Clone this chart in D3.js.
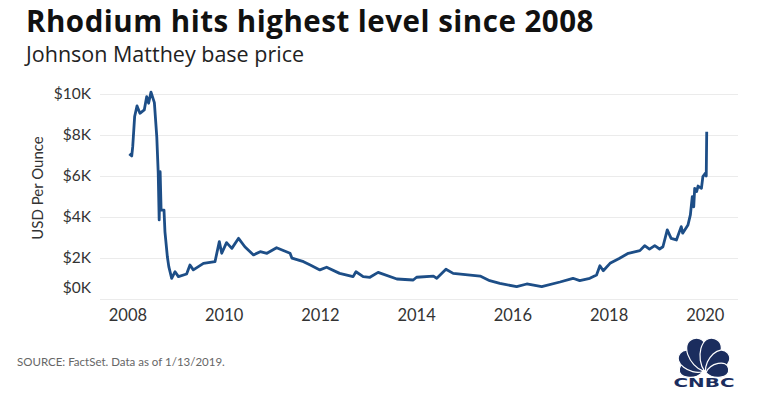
<!DOCTYPE html>
<html>
<head>
<meta charset="utf-8">
<script src="https://cdn.jsdelivr.net/npm/d3@7"></script>
<style>
  body { margin: 0; background: #fff; }
  svg text { font-family: Lato, "Open Sans", sans-serif; }
</style>
</head>
<body>
<div id="chart"></div>
<script>
// Rhodium price (decimal year, USD per ounce)
var years = [2008.04, 2008.09, 2008.11, 2008.15, 2008.20, 2008.26, 2008.35, 2008.40, 2008.44, 2008.49,
  2008.56, 2008.61, 2008.64, 2008.66, 2008.68, 2008.70, 2008.76, 2008.78, 2008.83, 2008.86,
  2008.92, 2008.99, 2009.06, 2009.23, 2009.30, 2009.37, 2009.58, 2009.82, 2009.91, 2009.96,
  2010.06, 2010.17, 2010.31, 2010.44, 2010.62, 2010.76, 2010.90, 2011.10, 2011.38, 2011.42,
  2011.66, 2011.80, 2012.00, 2012.14, 2012.41, 2012.69, 2012.75, 2012.90, 2013.04, 2013.21,
  2013.60, 2013.94, 2014.01, 2014.36, 2014.43, 2014.62, 2014.77, 2015.33, 2015.53, 2015.74,
  2016.09, 2016.30, 2016.61, 2016.99, 2017.26, 2017.40, 2017.61, 2017.75, 2017.82, 2017.89,
  2018.03, 2018.23, 2018.41, 2018.65, 2018.75, 2018.85, 2018.96, 2019.06, 2019.13, 2019.22,
  2019.30, 2019.41, 2019.51, 2019.54, 2019.65, 2019.70, 2019.74, 2019.77, 2019.79, 2019.83,
  2019.86, 2019.93, 2019.96, 2020.01, 2020.03, 2020.04];
var prices = [7080, 6980, 7430, 8900, 9420, 9060, 9220, 9870, 9550, 10090,
  9580, 7920, 6150, 3860, 6210, 4340, 4340, 3280, 2060, 1580,
  1010, 1330, 1090, 1220, 1660, 1420, 1740, 1820, 2800, 2230,
  2750, 2470, 2960, 2550, 2150, 2310, 2230, 2500, 2230, 1990,
  1820, 1660, 1420, 1550, 1250, 1090, 1330, 1090, 1060, 1300,
  976, 927, 1060, 1120, 1010, 1450, 1250, 1120, 893, 766,
  600, 732, 600, 830, 1010, 900, 1010, 1170, 1620, 1380,
  1740, 1990, 2230, 2360, 2600, 2430, 2600, 2440, 2550, 3370,
  2960, 2880, 3530, 3210, 3610, 4100, 4990, 4500, 5400, 5240,
  5510, 5400, 5970, 6130, 6000, 8160];
var xTicks = [2008, 2010, 2012, 2014, 2016, 2018, 2020];
var yTicks = [0, 2000, 4000, 6000, 8000, 10000];

var W = 758, H = 407;
var lineColor = "#1d4e87";
var navy = "#1b2d5e";

var svg = d3.select("#chart").append("svg")
  .attr("width", W)
  .attr("height", H);

// headings
svg.append("text")
  .attr("x", 26).attr("y", 32)
  .style("font-family", "'Open Sans', sans-serif")
  .style("letter-spacing", "0.5px")
  .attr("font-size", 29.5).attr("font-weight", 700).attr("fill", "#111")
  .text("Rhodium hits highest level since 2008");

svg.append("text")
  .attr("x", 26).attr("y", 62)
  .style("font-family", "'Open Sans', sans-serif")
  .attr("font-size", 21.5).attr("fill", "#222")
  .text("Johnson Matthey base price");

// scales
var x = d3.scaleLinear().domain([2007.43, 2020.69]).range([100, 738]);
var y = d3.scaleLinear().domain([0, 10000]).range([299, 94]);

// gridlines
svg.append("g")
  .selectAll("line")
  .data(yTicks)
  .join("line")
  .attr("x1", 100).attr("x2", 738)
  .attr("y1", function (d) { return y(d) + 0.5; })
  .attr("y2", function (d) { return y(d) + 0.5; })
  .attr("stroke", "#ebebeb")
  .attr("stroke-width", 1);

// y axis labels
var yAxis = svg.append("g")
  .attr("transform", "translate(91,0)")
  .call(d3.axisLeft(y).tickValues(yTicks).tickSize(0).tickPadding(0)
    .tickFormat(function (d) { return "$" + d / 1000 + "K"; }));
yAxis.select(".domain").remove();
yAxis.selectAll("text")
  .attr("font-size", 15.5).attr("fill", "#333")
  .attr("dy", function (d) { return d === 0 ? "-0.4em" : "0.32em"; });

// x axis labels
var xAxis = svg.append("g")
  .attr("transform", "translate(0,299)")
  .call(d3.axisBottom(x).tickValues(xTicks).tickSize(0).tickPadding(10)
    .tickFormat(d3.format("d")));
xAxis.select(".domain").remove();
xAxis.selectAll("text").attr("font-size", 16.5).attr("fill", "#333");

// y axis title
svg.append("text")
  .attr("transform", "translate(43,188) rotate(-90)")
  .attr("text-anchor", "middle")
  .attr("font-size", 15).attr("fill", "#333")
  .text("USD Per Ounce");

// price line
var line = d3.line()
  .x(function (d, i) { return x(years[i]); })
  .y(function (d) { return y(d); });

svg.append("path")
  .datum(prices)
  .attr("d", line)
  .attr("fill", "none")
  .attr("stroke", lineColor)
  .attr("stroke-width", 2.8)
  .attr("stroke-linejoin", "round");

// source
svg.append("text")
  .attr("x", 17).attr("y", 366)
  .attr("font-size", 11.5).attr("fill", "#666")
  .text("SOURCE: FactSet. Data as of 1/13/2019.");

// CNBC peacock, rough
var logo = svg.append("g").attr("transform", "translate(704,373)");
var feathers = [
  { a: -80, l: 25 }, { a: -50, l: 31 }, { a: -17, l: 36 },
  { a: 17, l: 36 }, { a: 50, l: 31 }, { a: 80, l: 25 }
];
logo.selectAll("path")
  .data(feathers)
  .join("path")
  .attr("transform", function (d) { return "rotate(" + d.a + ")"; })
  .attr("d", function (d) {
    var w = d.l * 0.34;
    return "M0,-2 C" + (-w) + "," + (-d.l * 0.3) + " " + (-w * 1.2) + "," + (-d.l) + " 0," + (-d.l) +
      " C" + (w * 1.2) + "," + (-d.l) + " " + w + "," + (-d.l * 0.3) + " 0,-2Z";
  })
  .attr("fill", navy)
  .attr("stroke", "#fff")
  .attr("stroke-width", 1.2);

svg.append("text")
  .attr("x", 704).attr("y", 387)
  .attr("text-anchor", "middle")
  .style("font-family", "'DejaVu Sans', sans-serif")
  .attr("font-size", 12.5).attr("font-weight", 700)
  .attr("fill", navy)
  .attr("textLength", 61)
  .attr("lengthAdjust", "spacingAndGlyphs")
  .text("CNBC");
</script>
</body>
</html>
